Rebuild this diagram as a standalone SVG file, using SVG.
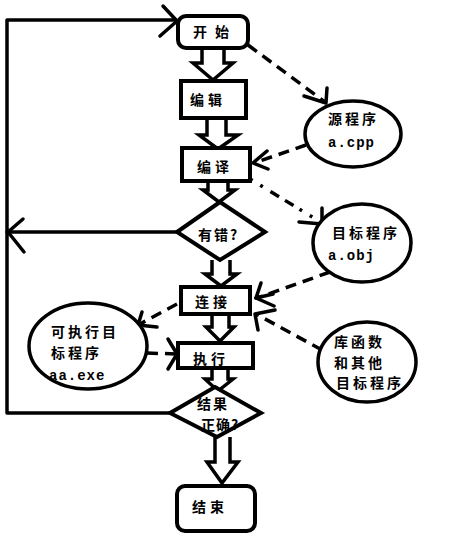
<svg xmlns="http://www.w3.org/2000/svg" width="459" height="533" viewBox="0 0 459 533">
<style>
.box{fill:#fff;stroke:#000;stroke-width:4}
.ell{fill:#fff;stroke:#000;stroke-width:3.5}
.hol{fill:#fff;stroke:#000;stroke-width:3.5;stroke-linejoin:miter}
.ln{fill:none;stroke:#000;stroke-width:3.5;stroke-linecap:round;stroke-linejoin:round}
.ds{fill:none;stroke:#000;stroke-width:3.5;stroke-dasharray:11 7}
.dt{fill:none;stroke:#000;stroke-width:3.5;stroke-dasharray:3 9 3 9 10 7 10 7}
.t{font-family:"Noto Sans CJK SC","Noto Sans",sans-serif;font-size:14px;font-weight:bold;fill:#000;letter-spacing:4px}
.e{font-family:"Noto Sans CJK SC","Noto Sans",sans-serif;font-size:14px;font-weight:bold;fill:#000;letter-spacing:3px}
.m{font-family:"Liberation Mono",monospace;font-size:14px;font-weight:bold;fill:#000;letter-spacing:1px}
</style>
<g id="connectors">
<!-- hollow arrows -->
<path class="hol" d="M202,48 V63 H193 L213,80 L233,63 H224 V48"/>
<path class="hol" d="M207,118 V135 H199 L218,149 L238,135 H226 V118"/>
<path class="hol" d="M208,181 V190 H203 L219,202 L235,190 H228 V181"/>
<path class="hol" d="M212,260 V274 H205 L221,286 L237,274 H230 V260"/>
<path class="hol" d="M212,315 V327 H206 L220,341 L234,327 H229 V315"/>
<path class="hol" d="M212,368 V379 H205 L218,391 L233,379 H228 V368"/>
<path class="hol" d="M215,437 V462 H207 L222,483 L238,462 H230 V437"/>
<!-- loop lines -->
<polyline class="ln" points="170,413 7,413 7,20 176,20"/>
<polyline class="ln" points="163,6 177,21 160,36"/>
<line class="ln" x1="177" y1="232" x2="7" y2="232"/>
<polyline class="ln" points="23,219 8,232 24,252"/>
<!-- dashed -->
<line class="ds" x1="248" y1="45" x2="325" y2="102"/>
<polyline class="ln" points="304,96 326,103 327,88"/>
<line class="ds" x1="306" y1="145" x2="254" y2="163"/>
<polyline class="ln" points="267,151 253,163 268,169"/>
<line class="dt" x1="250" y1="179" x2="322" y2="223"/>
<polyline class="ln" points="299,222 322,224 322,208"/>
<line class="ds" x1="330" y1="272" x2="257" y2="298"/>
<polyline class="ln" points="261,283 256,298 273,294"/>
<line class="ln" x1="256" y1="298" x2="274" y2="306"/>
<line class="ds" x1="322" y1="350" x2="256" y2="314"/>
<polyline class="ln" points="275,310 255,314 258,330"/>
<line class="ds" x1="177" y1="304" x2="140" y2="324"/>
<polyline class="ln" points="142,312 138,325 157,327"/>
<line class="ds" x1="147" y1="353" x2="176" y2="354"/>
<polyline class="ln" points="168,339 177,354 168,369"/>
</g>
<g id="start"><rect class="box" x="178" y="16" width="70" height="32" rx="8"/><text class="t" x="193" y="37" style="letter-spacing:8px">开始</text></g>
<g id="edit"><rect class="box" x="181" y="81" width="65" height="37"/><text class="t" x="190" y="105">编辑</text></g>
<g id="compile"><rect class="box" x="182" y="148" width="68" height="33"/><text class="t" x="197" y="172">编译</text></g>
<g id="err"><polygon class="box" points="177,232 220,202 265,232 220,260"/><text class="t" x="198" y="240" style="letter-spacing:2px">有错?</text></g>
<g id="link"><rect class="box" x="181" y="287" width="69" height="27"/><text class="t" x="195" y="307">连接</text></g>
<g id="run"><rect class="box" x="178" y="343" width="75" height="25"/><text class="t" x="193" y="364">执行</text></g>
<g id="ok"><polygon class="box" points="170,413 215,387 261,413 217,437"/><text class="t" x="197" y="409" style="letter-spacing:2px">结果</text><text class="t" x="201" y="430" style="letter-spacing:1px">正确?</text></g>
<g id="end"><rect class="box" x="177" y="486" width="78" height="45" rx="8"/><text class="t" x="192" y="512">结束</text></g>
<g id="src"><ellipse class="ell" cx="353" cy="134" rx="48" ry="33"/><text class="e" x="328" y="124">源程序</text><text class="m" x="328" y="147">a.cpp</text></g>
<g id="obj"><ellipse class="ell" cx="362" cy="243" rx="49" ry="39"/><text class="e" x="332" y="238">目标程序</text><text class="m" x="328" y="260">a.obj</text></g>
<g id="exe"><ellipse class="ell" cx="88" cy="346" rx="59" ry="43"/><text class="e" x="51" y="337">可执行目</text><text class="e" x="51" y="358">标程序</text><text class="m" x="49" y="380">aa.exe</text></g>
<g id="lib"><ellipse class="ell" cx="367" cy="362" rx="49" ry="40"/><text class="e" x="334" y="347">库函数</text><text class="e" x="334" y="368">和其他</text><text class="e" x="336" y="388">目标程序</text></g>
</svg>
